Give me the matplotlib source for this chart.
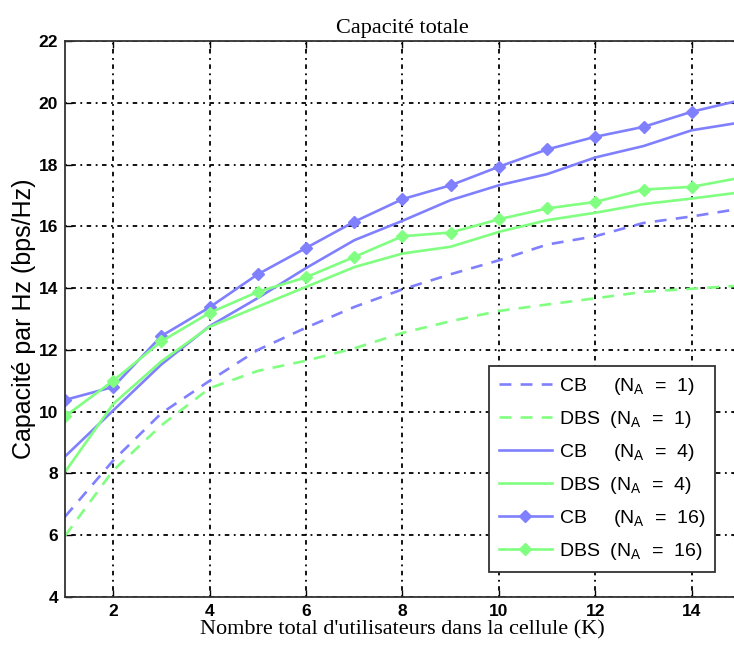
import matplotlib
matplotlib.use("Agg")
import matplotlib.pyplot as plt

plt.rcParams['mathtext.fontset'] = 'custom'
plt.rcParams['mathtext.rm'] = 'Liberation Sans'
plt.rcParams['mathtext.it'] = 'Liberation Sans'

K = [1, 2, 3, 4, 5, 6, 7, 8, 9, 10, 11, 12, 13, 14, 15]

cb_na1 = [6.6, 8.42, 9.95, 11.0, 12.0, 12.72, 13.39, 13.96, 14.45, 14.9, 15.41, 15.68, 16.11, 16.32, 16.57]
dbs_na1 = [5.98, 8.1, 9.56, 10.76, 11.32, 11.65, 12.05, 12.55, 12.93, 13.26, 13.47, 13.67, 13.88, 13.98, 14.08]
cb_na4 = [8.55, 10.04, 11.53, 12.77, 13.68, 14.65, 15.55, 16.18, 16.85, 17.33, 17.69, 18.23, 18.6, 19.11, 19.36]
dbs_na4 = [8.05, 10.25, 11.63, 12.75, 13.4, 14.04, 14.68, 15.12, 15.34, 15.82, 16.2, 16.44, 16.72, 16.9, 17.1]
cb_na16 = [10.38, 10.8, 12.45, 13.38, 14.45, 15.3, 16.15, 16.88, 17.33, 17.93, 18.49, 18.9, 19.22, 19.71, 20.08]
dbs_na16 = [9.85, 11.0, 12.28, 13.2, 13.88, 14.35, 15.01, 15.68, 15.8, 16.23, 16.58, 16.79, 17.19, 17.28, 17.57]

labels = [
    "CB     (N$_\\mathregular{A}$  =  1)",
    "DBS  (N$_\\mathregular{A}$  =  1)",
    "CB     (N$_\\mathregular{A}$  =  4)",
    "DBS  (N$_\\mathregular{A}$  =  4)",
    "CB     (N$_\\mathregular{A}$  =  16)",
    "DBS  (N$_\\mathregular{A}$  =  16)",
]

blue = '#8080ff'
green = '#80ff80'

fig = plt.figure(figsize=(7.34, 6.5), dpi=100)
ax = fig.add_axes([65/734, 1-597/650, 675/734, 556/650])

lw = 1.9
ax.plot(K, cb_na1, color=blue, lw=lw, dashes=(4.5, 3.5), label=labels[0])
ax.plot(K, dbs_na1, color=green, lw=lw, dashes=(4.5, 3.5), label=labels[1])
ax.plot(K, cb_na4, color=blue, lw=lw, label=labels[2])
ax.plot(K, dbs_na4, color=green, lw=lw, label=labels[3])
ax.plot(K, cb_na16, color=blue, lw=lw, marker='D', ms=6.5, label=labels[4])
ax.plot(K, dbs_na16, color=green, lw=lw, marker='D', ms=6.5, label=labels[5])

ax.set_xlim(1, 15)
ax.set_ylim(4, 22)
ax.set_xticks([2, 4, 6, 8, 10, 12, 14])
ax.set_yticks(range(4, 23, 2))
ax.tick_params(direction='in', length=5, width=1, labelsize=12.5, top=True, right=True, pad=5)
for t in ax.get_xticklabels() + ax.get_yticklabels():
    t.set_fontfamily('Liberation Sans')
    t.set_fontweight('bold')
ax.grid(True, color='black', lw=1.3, linestyle=(0, (1, 2.5, 2.5, 2.5)))
for s in ax.spines.values():
    s.set_linewidth(1.3)
    s.set_color('#333333')

ax.set_title("Capacité totale", family='Liberation Serif', fontsize=16, pad=6)
ax.set_xlabel("Nombre total d'utilisateurs dans la cellule (K)", family='Liberation Serif', fontsize=16, labelpad=1)
ax.set_ylabel("Capacité par Hz (bps/Hz)", family='Liberation Sans', fontsize=18, labelpad=2)

leg = ax.legend(loc='lower left', bbox_to_anchor=(0.628, 0.045), prop={'family': 'Liberation Sans', 'size': 14},
                handlelength=2.75, labelspacing=0.62, fancybox=False, framealpha=1, edgecolor='#333333',
                borderpad=0.5, handletextpad=0.35, borderaxespad=0)
leg.get_frame().set_linewidth(1.3)

fig.savefig('out.png', dpi=100)
